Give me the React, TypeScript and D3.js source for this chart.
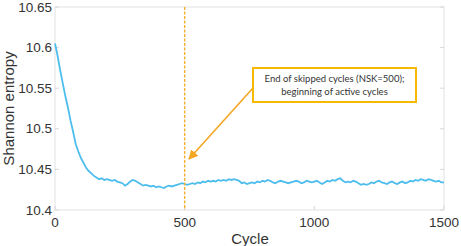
import * as d3 from "d3";

const STEP = 10;
const entropy = [
  10.605, 10.59, 10.572, 10.556, 10.54, 10.526, 10.51, 10.496, 10.481, 10.472,
  10.464, 10.458, 10.452, 10.448, 10.445, 10.442, 10.44, 10.438, 10.439, 10.437,
  10.438, 10.437, 10.436, 10.437, 10.435, 10.434, 10.433, 10.43, 10.432, 10.435,
  10.437, 10.436, 10.434, 10.432, 10.43, 10.431, 10.43, 10.429, 10.43, 10.428,
  10.429, 10.428, 10.427, 10.429, 10.43, 10.429, 10.43, 10.431, 10.432, 10.433,
  10.432, 10.431, 10.432, 10.433, 10.432, 10.434, 10.433, 10.435, 10.434, 10.436,
  10.435, 10.436, 10.435, 10.437, 10.436, 10.437, 10.436, 10.438, 10.437, 10.438,
  10.437, 10.436, 10.433, 10.434, 10.432, 10.433, 10.434, 10.433, 10.435, 10.434,
  10.436, 10.435, 10.437, 10.436, 10.434, 10.433, 10.435, 10.436, 10.435, 10.434,
  10.433, 10.434, 10.435, 10.436, 10.435, 10.433, 10.434, 10.436, 10.435, 10.434,
  10.435, 10.436, 10.434, 10.432, 10.434, 10.436, 10.435, 10.437, 10.436, 10.438,
  10.439, 10.436, 10.434, 10.435, 10.434, 10.436, 10.435, 10.433, 10.431, 10.432,
  10.431, 10.432, 10.434, 10.433, 10.435, 10.436, 10.434, 10.433, 10.432, 10.434,
  10.435, 10.433, 10.432, 10.434, 10.435, 10.433, 10.434, 10.436, 10.435, 10.437,
  10.436, 10.438, 10.437, 10.436, 10.438, 10.437, 10.436, 10.435, 10.436, 10.434,
  10.434,
];
const xTicks = [0, 500, 1000, 1500];
const yTicks = [10.4, 10.45, 10.5, 10.55, 10.6, 10.65];
const nsk = 500;
const calloutLines = ["End of skipped cycles (NSK=500);", "beginning of active cycles"];

export default function App() {
  const W = 461;
  const H = 246;
  const m = { left: 55, right: 17, top: 7, bottom: 36 };

  const x = d3.scaleLinear().domain([0, 1500]).range([m.left, W - m.right]);
  const y = d3.scaleLinear().domain([10.4, 10.65]).range([H - m.bottom, m.top]);

  const line = d3
    .line<number>()
    .x((_, i) => x(i * STEP))
    .y((d) => y(d));

  const font = "'Liberation Sans', Arial, sans-serif";
  const orange = "#f5a623";

  return (
    <svg
      width={W}
      height={H}
      style={{ position: "absolute", left: 0, top: 0, background: "#fff" }}
    >
      <defs>
        <marker id="arr" viewBox="0 0 10 10" refX="9" refY="5" markerWidth="6" markerHeight="6" orient="auto">
          <path d="M0,0 L10,5 L0,10 z" fill={orange} />
        </marker>
      </defs>
      <rect
        x={x(0)}
        y={y(10.65)}
        width={x(1500) - x(0)}
        height={y(10.4) - y(10.65)}
        fill="#fff"
        stroke="#e2e2e2"
      />
      {yTicks.map((t) => (
        <g key={t}>
          <line x1={x(0)} x2={x(0) + 4} y1={y(t)} y2={y(t)} stroke="#d8d8d8" />
          <line x1={x(1500) - 4} x2={x(1500)} y1={y(t)} y2={y(t)} stroke="#d8d8d8" />
          <text
            x={x(0) - 3}
            y={y(t) + 4.5}
            textAnchor="end"
            fontFamily={font}
            fontSize={13.5}
            fill="#333"
          >
            {t.toString()}
          </text>
        </g>
      ))}
      {xTicks.map((t) => (
        <g key={t}>
          <line x1={x(t)} x2={x(t)} y1={y(10.4)} y2={y(10.4) - 4} stroke="#d8d8d8" />
          <text
            x={x(t)}
            y={y(10.4) + 17}
            textAnchor="middle"
            fontFamily={font}
            fontSize={13.5}
            fill="#333"
          >
            {t}
          </text>
        </g>
      ))}
      <path d={line(entropy) ?? ""} fill="none" stroke="#4dbdee" strokeWidth={1.8} />
      <line
        x1={x(nsk)}
        x2={x(nsk)}
        y1={y(10.65)}
        y2={y(10.4)}
        stroke="#f6b030"
        strokeWidth={1.4}
        strokeDasharray="3,1.5"
      />
      <line
        x1={253}
        y1={88}
        x2={189}
        y2={159}
        stroke={orange}
        strokeWidth={1.6}
        markerEnd="url(#arr)"
      />
      <rect x={253} y={68} width={163} height={34} fill="#fff" stroke="#f7b900" strokeWidth={2} />
      {calloutLines.map((s, i) => (
        <text
          key={s}
          x={334.5}
          y={82 + i * 13}
          textAnchor="middle"
          fontFamily="Lato, 'Open Sans', sans-serif"
          fontSize={9.5}
          fill="#333"
        >
          {s}
        </text>
      ))}
      <text
        x={250}
        y={244}
        textAnchor="middle"
        fontFamily={font}
        fontSize={15}
        fill="#333"
      >
        Cycle
      </text>
      <text
        transform={`translate(14,${(y(10.4) + y(10.65)) / 2}) rotate(-90)`}
        textAnchor="middle"
        fontFamily={font}
        fontSize={15}
        fill="#333"
      >
        Shannon entropy
      </text>
    </svg>
  );
}
